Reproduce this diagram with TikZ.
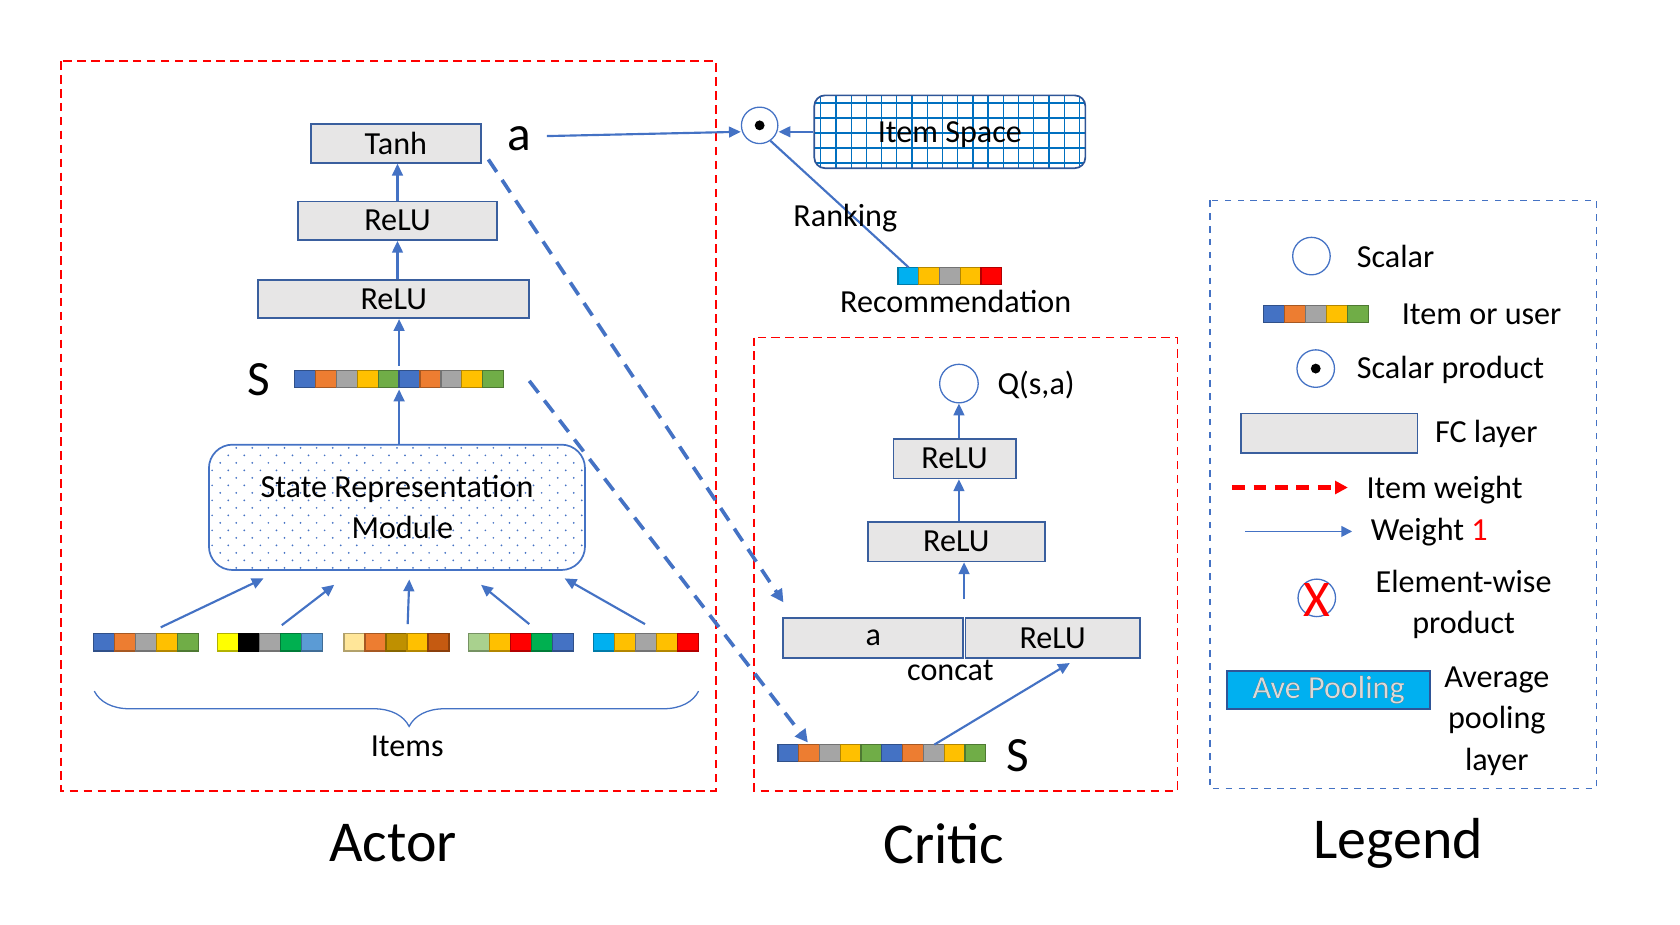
\documentclass[tikz,border=0pt]{standalone}
\usepackage{fontspec}
\setmainfont{Carlito}
\usepackage[outline]{contour}
\contourlength{0.45pt}
\usetikzlibrary{arrows.meta,decorations.pathreplacing,fit}
\definecolor{vb}{HTML}{4472C4}
\definecolor{vo}{HTML}{ED7D31}
\definecolor{vg}{HTML}{A5A5A5}
\definecolor{vy}{HTML}{FFC000}
\definecolor{vn}{HTML}{70AD47}
\definecolor{yl}{HTML}{FFFF00}
\definecolor{bk}{HTML}{000000}
\definecolor{gr}{HTML}{00B050}
\definecolor{lb}{HTML}{5B9BD5}
\definecolor{ly}{HTML}{FFE699}
\definecolor{dg}{HTML}{BF9000}
\definecolor{dor}{HTML}{C55A11}
\definecolor{lg}{HTML}{A9D18E}
\definecolor{rd}{HTML}{FF0000}
\definecolor{cy}{HTML}{00B0F0}
\definecolor{fcg}{HTML}{E7E6E6}
\definecolor{fcb}{HTML}{3A5F9E}
\definecolor{gl}{HTML}{0070C0}
\definecolor{dkb}{HTML}{2F5597}
\definecolor{avef}{HTML}{D9D9D9}
\newcommand{\fs}{\fontsize{15}{18}\selectfont}
% name, left x, centre y, cell width, n cells, colours
\newcommand{\colvec}[6]{%
  \node[inner sep=0pt,outer sep=0pt,fit={({#2},{#3-8}) ({#2+#4*#5},{#3+8})}] (#1) {};
  \foreach \c [count=\i from 0] in {#6}{%
    \filldraw[draw=\c!70!black,fill=\c,line width=0.6pt] ({#2+\i*#4},{#3-8}) rectangle ++(#4,16);}%
}
\begin{document}
\begin{tikzpicture}[x=0.5pt,y=-0.5pt,
  fc/.style={draw=fcb, fill=fcg, line width=0.8pt, inner sep=0pt, font=\fs},
  arr/.style={draw=vb, line width=1pt, -{Triangle[length=5.5pt,width=5pt]}},
  darr/.style={draw=vb, line width=1.7pt, dash pattern=on 7pt off 4.5pt, -{Triangle[length=6pt,width=6pt]}},
  redbox/.style={draw=rd, line width=0.8pt, dash pattern=on 4pt off 2.5pt},
  bluebox/.style={draw=vb, line width=0.8pt, dash pattern=on 3pt off 3pt},
  lbl/.style={font=\fs, inner sep=0pt},
  big/.style={font=\fontsize{23}{23}\selectfont, inner sep=0pt},
  title/.style={font=\fontsize{27}{27}\selectfont, inner sep=0pt},
  scal/.style={circle, draw=vb, line width=0.6pt, minimum size=17.5pt, inner sep=0pt},
]
\useasboundingbox (0,0) rectangle (1568,863);

% frames
\draw[redbox] (57,57) rectangle (668,738);
\draw[redbox] (704,315) rectangle (1099,738);
\draw[bluebox] (1129,187) rectangle (1490,736);

% titles
\node[title] (tact) at (367,787) {Actor};
\node[title] (tcri) at (881,787) {Critic};
\node[title] (tleg) at (1305,787) {Legend};

% ---------------- Actor ----------------
\node[fc, minimum width=79.5pt, minimum height=18pt] (tanh) at (369.5,134) {Tanh};
\node[fc, minimum width=93pt, minimum height=18pt] (relu1) at (371,206) {ReLU};
\node[fc, minimum width=126.5pt, minimum height=18pt] (relu2) at (367.5,279) {ReLU};
\node[big] (alab) at (485,129) {a};
\node[big] (slab) at (242,354) {S};
\colvec{sA}{275}{353.5}{19.5}{10}{vb,vo,vg,vy,vn,vb,vo,vg,vy,vn}

% dotted fill of the state representation module
\begin{scope}
  \clip[rounded corners=11pt] (195,415) rectangle (546,532);
  \foreach \yy [count=\k] in {418,425,...,532}{%
    \pgfmathsetmacro{\off}{mod(\k,2)*7.5}%
    \foreach \xx in {198,213,...,550}{\fill[vb] ({\xx+\off},\yy) circle (0.45pt);}}
\end{scope}
\node[draw=vb, line width=0.8pt, rounded corners=11pt, minimum width=175.5pt, minimum height=58.5pt,
  align=center, font=\fs, inner sep=0pt]
  (srm) at (370.5,473.5) {State Representation\\[1pt]\hspace*{5pt}Module};

\colvec{iv1}{87}{599.5}{19.6}{5}{vb,vo,vg,vy,vn}
\colvec{iv2}{203}{599.5}{19.6}{5}{yl,bk,vg,gr,lb}
\colvec{iv3}{321}{599.5}{19.6}{5}{ly,vo,dg,vy,dor}
\colvec{iv4}{437}{599.5}{19.6}{5}{lg,vy,rd,gr,vb}
\colvec{iv5}{554}{599.5}{19.6}{5}{cy,vy,vg,vy,rd}

\draw[arr] (relu1.north) -- (relu1.north |- tanh.south);
\draw[arr] (relu1.south |- relu2.north) -- (relu1.south);
\draw[arr] ([yshift=2pt]sA.north) -- (sA.north |- relu2.south);
\draw[arr] (srm.north -| sA.south) -- ([yshift=-1pt]sA.south);

\draw[arr] ([xshift=7pt,yshift=3pt]iv1.north) -- ([xshift=-62.25pt,yshift=-3.5pt]srm.south);
\draw[arr] ([xshift=5.5pt,yshift=4pt]iv2.north) -- ([xshift=-29.25pt,yshift=-6.5pt]srm.south);
\draw[arr] ([xshift=5.25pt,yshift=4.5pt]iv3.north) -- ([xshift=5.75pt,yshift=-4pt]srm.south);
\draw[arr] ([xshift=4pt,yshift=4.5pt]iv4.north) -- ([xshift=39.25pt,yshift=-6.5pt]srm.south);
\draw[arr] ([xshift=-0.5pt,yshift=4.5pt]iv5.north) -- ([xshift=78.25pt,yshift=-3.5pt]srm.south);

\coordinate (brl) at (88,645);
\coordinate (brr) at (652,645);
\draw[vb, line width=0.6pt, decorate, decoration={brace, mirror, amplitude=16.5pt, aspect=0.521}] (brl) -- (brr);
\node[lbl] (items) at (380,697) {Items};

% ---------------- Top middle ----------------
\node[scal, minimum size=17pt] (dot) at (709,117) {};
\fill (dot.center) circle (2.3pt);
% grid fill of the item space
\begin{scope}
  \clip[rounded corners=5pt] (760,89) rectangle (1013,157);
  \foreach \xx in {766,780.2,...,1013}{\draw[gl, line width=0.6pt] (\xx,80) -- (\xx,165);}
  \foreach \yy in {96,110,...,153}{\draw[gl, line width=0.6pt] (750,\yy) -- (1020,\yy);}
\end{scope}
\node[draw=dkb, line width=0.8pt, rounded corners=5pt, minimum width=126.5pt, minimum height=34pt,
  font=\fs, inner sep=0pt, text depth=0pt] (isp) at (886.5,123) {Item Space};
\draw[arr] ([xshift=7pt,yshift=1pt]alab.east) -- (dot.west |- 0,123);
\draw[arr] (isp.west) -- (dot.east |- isp.west);
\colvec{rec}{838}{257.5}{19.4}{5}{cy,vy,vg,vy,rd}
\draw[vb, line width=1pt] (dot.-55) -- ([xshift=5pt]rec.north west);
\node[lbl] (rank) at (789,203.5) {Ranking};
\node[lbl] (recl) at (892,281) {Recommendation};

% ---------------- Critic ----------------
\node[scal, minimum size=18pt] (q) at (895,358) {};
\node[lbl] (ql) at (967,359) {Q(s,a)};
\node[fc, minimum width=57pt, minimum height=18.5pt] (crelu1) at (891,428) {ReLU};
\node[fc, minimum width=82.5pt, minimum height=18.5pt] (crelu2) at (892.5,505.5) {ReLU};
\node[fc, minimum width=84pt, minimum height=18.5pt] (ca) at (815,595.5) {a};
\node[fc, minimum width=81.5pt, minimum height=18.5pt] (crl) at (982.5,595.5) {ReLU};
\node[lbl] (concat) at (887,626) {concat};
\colvec{sC}{726}{703}{19.4}{10}{vb,vo,vg,vy,vn,vb,vo,vg,vy,vn}
\node[big] (slab2) at (950,705) {S};

\draw[arr] (crelu1.north -| q.south) -- (q.south);
\draw[arr] (crelu2.north -| q.south) -- (crelu1.south -| q.south);
\draw[arr, shorten <=8.5pt] (ca.north east) -- (ca.north east |- crelu2.south);
\draw[arr] ([xshift=24.5pt]sC.north) -- ([xshift=8pt,yshift=-2pt]crl.south);

\draw[darr] ([xshift=3pt,yshift=2pt]tanh.south east) -- ([xshift=0.5pt,yshift=7pt]ca.north west);
\draw[darr] ([xshift=12pt,yshift=-1pt]sA.east) -- ([xshift=14pt,yshift=1pt]sC.north west);

% ---------------- Legend ----------------
\node[scal] (lc1) at (1224,239) {};
\node[lbl, anchor=west] (lt1) at (1266,239) {Scalar};
\colvec{lv}{1179}{293}{19.6}{5}{vb,vo,vg,vy,vn}
\node[lbl, anchor=west] (lt2) at (1308,293) {Item or user};
\node[scal] (lc2) at (1228,344) {};
\fill (lc2.center) circle (2.3pt);
\node[lbl, anchor=west] (lt3) at (1266,345) {Scalar product};
\node[fc, minimum width=82.5pt, minimum height=18.5pt] (lfc) at (1240.5,404.5) {};
\node[lbl, anchor=west] (lt4) at (1339,405) {FC layer};
\coordinate (iw1) at (1150,455);
\coordinate (iw2) at (1258,455);
\draw[rd, line width=2pt, dash pattern=on 6pt off 4pt, -{Triangle[length=6pt,width=6pt]}] (iw1) -- (iw2);
\node[lbl, anchor=west] (lt5) at (1275,457) {Item weight};
\coordinate (w1) at (1162,496);
\coordinate (w2) at (1262,496);
\draw[vb, line width=0.8pt, -{Triangle[length=5pt,width=5pt]}] (w1) -- (w2);
\node[lbl, anchor=west] (lt6) at (1279,497) {Weight \textcolor{rd}{1}};
\node[scal] (lc3) at (1229,558) {};
\node[font=\fontsize{24}{24}\selectfont, text=rd, inner sep=0pt] (lx) at (1229,560) {X};
\node[lbl, align=center] (lt7) at (1366,564) {Element-wise\\[1pt]product};
\node[draw=dkb, fill=cy, line width=1pt, minimum width=95pt, minimum height=18pt, inner sep=0pt,
  font=\fs] (ave) at (1240,644) {\contour{black!85}{\textcolor{avef}{Ave Pooling}}};
\node[lbl, align=center] (lt8) at (1397,673) {Average\\[1.5pt]pooling\\[1.5pt]layer};
\end{tikzpicture}
\end{document}
